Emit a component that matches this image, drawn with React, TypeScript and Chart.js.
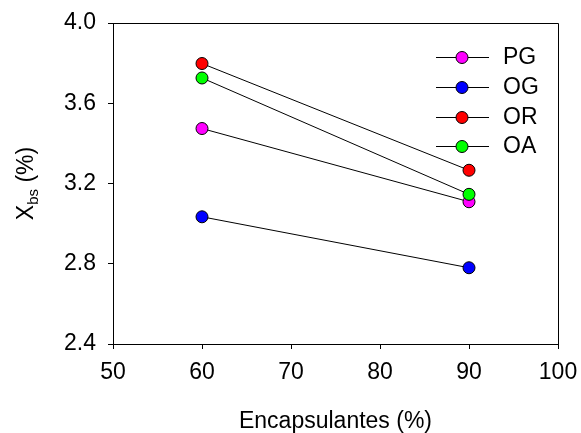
import React, { useEffect, useRef } from "react";
import { Chart, registerables } from "chart.js";

Chart.register(...registerables);

const xValues = [60, 90];
const pgValues = [3.474, 3.109];
const ogValues = [3.034, 2.78];
const orValues = [3.798, 3.266];
const oaValues = [3.726, 3.146];
const seriesNames = ["PG", "OG", "OR", "OA"];
const seriesColors = ["#FF00FF", "#0000FF", "#FF0000", "#00FF00"];
const xTickValues = [50, 60, 70, 80, 90, 100];
const yTickValues = [2.4, 2.8, 3.2, 3.6, 4.0];
const xTitle = "Encapsulantes (%)";
const yTitleMain = "X";
const yTitleSub = "bs";
const yTitleRest = " (%)";

const FONT = "'Liberation Sans', Arial, sans-serif";

const decorPlugin = {
  id: "decor",
  afterDraw(chart: any) {
    const { ctx, chartArea } = chart;
    const { left, top, right, bottom } = chartArea;
    ctx.save();
    // frame
    ctx.strokeStyle = "#000";
    ctx.lineWidth = 1;
    ctx.beginPath();
    ctx.moveTo(left, top + 0.5);
    ctx.lineTo(right + 0.5, top + 0.5);
    ctx.lineTo(right + 0.5, bottom);
    ctx.stroke();

    // x title
    ctx.fillStyle = "#000";
    ctx.font = `23px ${FONT}`;
    ctx.textAlign = "center";
    ctx.textBaseline = "alphabetic";
    ctx.fillText(xTitle, (left + right) / 2, 428);

    // y title with subscript
    const cy = (top + bottom) / 2;
    ctx.translate(33, cy);
    ctx.rotate(-Math.PI / 2);
    ctx.textAlign = "left";
    ctx.font = `23px ${FONT}`;
    const wMain = ctx.measureText(yTitleMain).width;
    const wRest = ctx.measureText(yTitleRest).width;
    ctx.font = `15px ${FONT}`;
    const wSub = ctx.measureText(yTitleSub).width;
    const total = wMain + wSub + wRest;
    let x = -total / 2;
    ctx.font = `23px ${FONT}`;
    ctx.fillText(yTitleMain, x, 0);
    x += wMain;
    ctx.font = `15px ${FONT}`;
    ctx.fillText(yTitleSub, x, 5);
    x += wSub;
    ctx.font = `23px ${FONT}`;
    ctx.fillText(yTitleRest, x, 0);
    ctx.restore();

    // legend
    ctx.save();
    const rowY = [57, 87, 117, 146];
    seriesNames.forEach((name, i) => {
      const y = rowY[i];
      ctx.strokeStyle = "#000";
      ctx.lineWidth = 1;
      ctx.beginPath();
      ctx.moveTo(436, y + 0.5);
      ctx.lineTo(489, y + 0.5);
      ctx.stroke();
      ctx.beginPath();
      ctx.arc(462, y + 0.5, 6, 0, Math.PI * 2);
      ctx.fillStyle = seriesColors[i];
      ctx.fill();
      ctx.stroke();
      ctx.fillStyle = "#000";
      ctx.font = `23px ${FONT}`;
      ctx.textAlign = "left";
      ctx.textBaseline = "middle";
      ctx.fillText(name, 503, y + 1);
    });
    ctx.restore();
  },
};

export default function App() {
  const ref = useRef<HTMLCanvasElement>(null);
  useEffect(() => {
    const allValues = [pgValues, ogValues, orValues, oaValues];
    const chart = new Chart(ref.current!, {
      type: "line",
      data: {
        datasets: seriesNames.map((name, i) => ({
          label: name,
          data: xValues.map((x, j) => ({ x, y: allValues[i][j] })),
          borderColor: "#000",
          borderWidth: 1,
          pointRadius: 6,
          pointBorderWidth: 1,
          pointBorderColor: "#000",
          pointBackgroundColor: seriesColors[i],
          order: seriesNames.length - 1 - i,
          fill: false,
          tension: 0,
        })),
      },
      options: {
        responsive: false,
        animation: false,
        layout: { padding: { left: 0, top: 23, right: 23, bottom: 0 } },
        plugins: { legend: { display: false }, tooltip: { enabled: false } },
        scales: {
          x: {
            type: "linear",
            min: xTickValues[0],
            max: xTickValues[xTickValues.length - 1],
            afterBuildTicks: (scale: any) => {
              scale.ticks = xTickValues.map((v) => ({ value: v }));
            },
            afterFit: (scale: any) => {
              scale.height = 89;
              scale.paddingLeft = 0;
              scale.paddingRight = 0;
            },
            ticks: {
              color: "#000",
              font: { family: FONT, size: 23 },
              padding: 10,
              maxRotation: 0,
              callback: (v: any) => String(v),
            },
            grid: { drawOnChartArea: false, drawTicks: true, tickLength: 5, color: "#000" },
            border: { display: true, color: "#000" },
          },
          y: {
            type: "linear",
            min: yTickValues[0],
            max: yTickValues[yTickValues.length - 1],
            afterBuildTicks: (scale: any) => {
              scale.ticks = yTickValues.map((v) => ({ value: v }));
            },
            afterFit: (scale: any) => {
              scale.width = 113;
              scale.paddingTop = 0;
              scale.paddingBottom = 0;
            },
            ticks: {
              color: "#000",
              font: { family: FONT, size: 23 },
              padding: 12,
              callback: (v: any) => Number(v).toFixed(1),
            },
            grid: { drawOnChartArea: false, drawTicks: true, tickLength: 5, color: "#000" },
            border: { display: true, color: "#000" },
          },
        },
      },
      plugins: [decorPlugin],
    });
    return () => chart.destroy();
  }, []);
  return (
    <div style={{ position: "fixed", left: 0, top: 0, width: 581, height: 433, background: "#fff" }}>
      <canvas ref={ref} width={581} height={433} />
    </div>
  );
}
